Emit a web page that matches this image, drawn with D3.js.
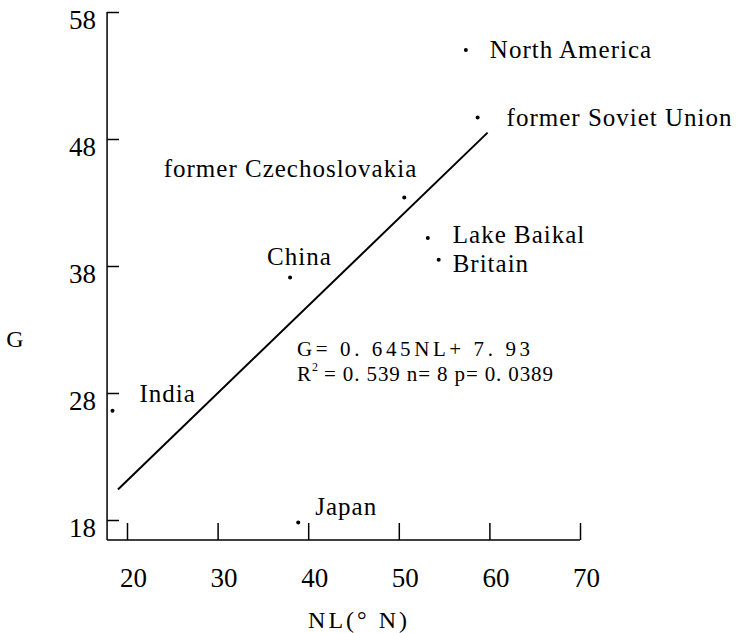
<!DOCTYPE html>
<html>
<head>
<meta charset="utf-8">
<script src="https://cdn.jsdelivr.net/npm/d3@7"></script>
<style>
  body { margin: 0; background: #fff; }
  svg text { font-family: 'Liberation Serif', 'Times New Roman', 'DejaVu Serif', serif; fill: #000; }
</style>
</head>
<body>
<div id="chart"></div>
<script>
// values
const regions = ['North America', 'former Soviet Union', 'former Czechoslovakia', 'Lake Baikal', 'Britain', 'China', 'India', 'Japan'];
const nl = [57.4, 58.7, 50.6, 53.2, 54.4, 38.0, 18.4, 38.9];
const g = [55.0, 49.7, 43.4, 40.2, 38.5, 37.1, 26.6, 17.8];
const fitNL = [19.0, 59.8];
const fitG = [20.4, 48.5];
const xTicks = [20, 30, 40, 50, 60, 70];
const yTicks = [18, 28, 38, 48, 58];
const eqLine1 = 'G= 0. 645NL+ 7. 93';
const eqLine2 = '= 0. 539 n= 8 p= 0. 0389';

const w = 740;
const h = 633;
const axisY = 540;
const serif = "'Liberation Serif', 'Times New Roman', 'DejaVu Serif', serif";

// where each name sits next to its dot
const labelPos = {
    'North America': [24, 8, 'start'],
    'former Soviet Union': [29, 9, 'start'],
    'former Czechoslovakia': [13, -20, 'end'],
    'Lake Baikal': [25, 5, 'start'],
    'Britain': [14, 12, 'start'],
    'China': [-23, -12, 'start'],
    'India': [27, -9, 'start'],
    'Japan': [17, -8, 'start']
};

const svg = d3.select('#chart')
    .append('svg')
    .attr('width', w)
    .attr('height', h)
    .style('font-family', serif);

const xScale = d3.scaleLinear().domain([20, 70]).range([127, 580]);
const yScale = d3.scaleLinear().domain([18, 58]).range([520, 12]);
const x0 = xScale(17.8);

// frame
svg.append('line')
   .attr('x1', x0).attr('x2', x0)
   .attr('y1', yScale(58)).attr('y2', axisY)
   .attr('stroke', '#000').attr('stroke-width', 1.5);
svg.append('line')
   .attr('x1', x0).attr('x2', xScale(70))
   .attr('y1', axisY).attr('y2', axisY)
   .attr('stroke', '#000').attr('stroke-width', 1.5);

const xAxis = d3.axisBottom(xScale).tickValues(xTicks).tickSize(-17).tickSizeOuter(0);
const yAxis = d3.axisLeft(yScale).tickValues(yTicks).tickSize(-12).tickSizeOuter(0);

const gx = svg.append('g')
   .attr('transform', 'translate(0,' + axisY + ')')
   .call(xAxis)
   .attr('font-family', null);
gx.select('.domain').remove();
gx.selectAll('line').attr('stroke', '#000').attr('stroke-width', 1.5);
gx.selectAll('text')
  .style('font-family', serif)
  .attr('font-size', 27)
  .attr('dx', 6)
  .attr('y', 47)
  .attr('dy', 0);

const gy = svg.append('g')
   .attr('transform', 'translate(' + x0 + ',0)')
   .call(yAxis)
   .attr('font-family', null);
gy.select('.domain').remove();
gy.selectAll('line').attr('stroke', '#000').attr('stroke-width', 1.5);
gy.selectAll('text')
  .style('font-family', serif)
  .attr('font-size', 27)
  .attr('x', -11)
  .attr('dy', '0.6em');

// regression line
svg.append('line')
   .attr('x1', xScale(fitNL[0])).attr('y1', yScale(fitG[0]))
   .attr('x2', xScale(fitNL[1])).attr('y2', yScale(fitG[1]))
   .attr('stroke', '#000').attr('stroke-width', 2);

const points = regions.map((r, i) => ({name: r, x: nl[i], y: g[i]}));

svg.selectAll('circle')
   .data(points)
   .enter()
   .append('circle')
   .attr('cx', d => xScale(d.x))
   .attr('cy', d => yScale(d.y))
   .attr('r', 2)
   .attr('fill', '#000');

svg.selectAll('.pt-label')
   .data(points)
   .enter()
   .append('text')
   .attr('class', 'pt-label')
   .style('font-family', serif)
   .attr('x', d => xScale(d.x) + labelPos[d.name][0])
   .attr('y', d => yScale(d.y) + labelPos[d.name][1])
   .attr('text-anchor', d => labelPos[d.name][2])
   .attr('font-size', 25)
   .attr('letter-spacing', 1)
   .text(d => d.name);

// equation
svg.append('text')
   .style('font-family', serif)
   .attr('x', 297).attr('y', 356)
   .attr('font-size', 21)
   .attr('textLength', 233)
   .attr('lengthAdjust', 'spacing')
   .text(eqLine1);

const r = svg.append('text')
   .style('font-family', serif)
   .attr('x', 297).attr('y', 381)
   .attr('font-size', 21)
   .text('R');
const rw = r.node().getComputedTextLength();
svg.append('text')
   .style('font-family', serif)
   .attr('x', 297 + rw + 1).attr('y', 371)
   .attr('font-size', 12)
   .text('2');
const restX = 297 + rw + 13;
svg.append('text')
   .style('font-family', serif)
   .attr('x', restX).attr('y', 381)
   .attr('font-size', 21)
   .attr('textLength', 553 - restX)
   .attr('lengthAdjust', 'spacing')
   .text(eqLine2);

// axis titles
svg.append('text')
   .style('font-family', serif)
   .attr('x', 15).attr('y', 347)
   .attr('text-anchor', 'middle')
   .attr('font-size', 24)
   .text('G');

svg.append('text')
   .style('font-family', serif)
   .attr('x', 359).attr('y', 628)
   .attr('text-anchor', 'middle')
   .attr('font-size', 24)
   .attr('letter-spacing', 3)
   .text('NL(° N)');
</script>
</body>
</html>
